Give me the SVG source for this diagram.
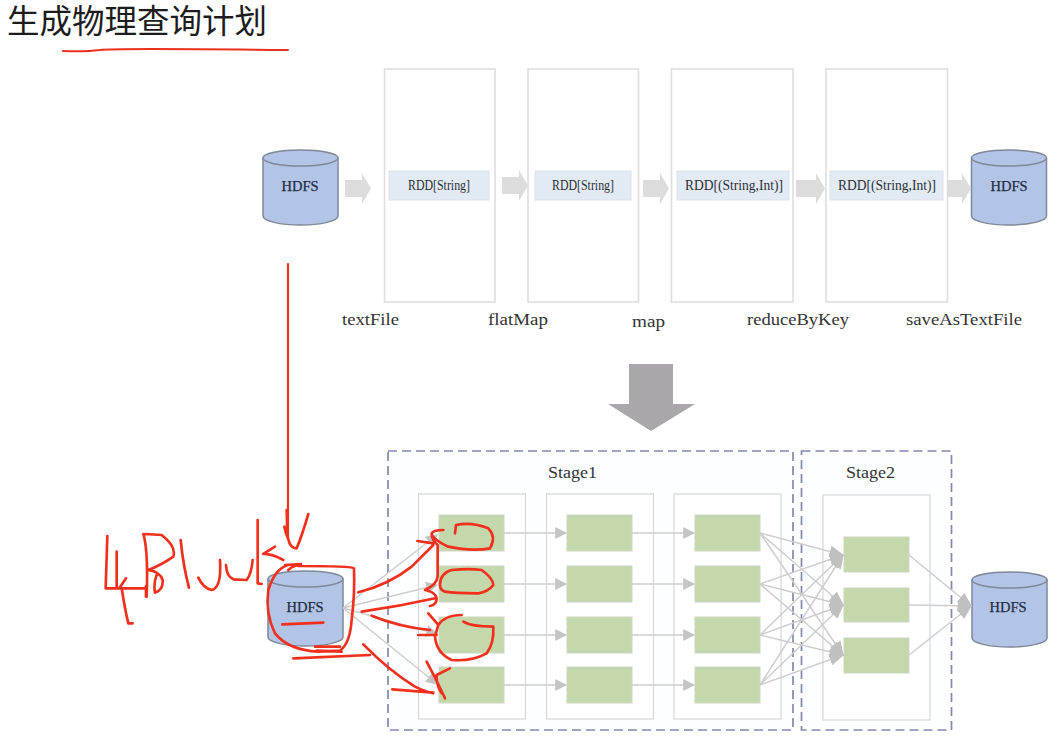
<svg xmlns="http://www.w3.org/2000/svg" width="1062" height="737" viewBox="0 0 1062 737">
<defs>
<style>
.panel{fill:#fff;stroke:#e2dcdf;stroke-width:1.6}
.inner{fill:#fff;stroke:#d6d8d8;stroke-width:1.2}
.rdd{fill:#e2eaf4;stroke:#dde2e8;stroke-width:1}
.task{fill:#c5d8ab;stroke:#cfd5c4;stroke-width:1}
.stage{fill:#fdfeff;stroke:#8388ad;stroke-width:1.7;stroke-dasharray:9 5}
.cyl{fill:#b3c5e6;stroke:#7e8899;stroke-width:1.5}
.t{font-family:"Liberation Serif",serif;fill:#2a2f3a}
.rt{font-size:14px}
.hd{font-size:14.500px;text-anchor:middle;fill:#1f2c44;stroke:#1f2c44;stroke-width:.25}
.lb{font-size:17px;fill:#333}
.st{font-size:16px;fill:#333}
.blk{fill:#dcdcdc}
.c{fill:none;stroke:#cfcdcd;stroke-width:1.500}
.ca{marker-end:url(#ah)}
.cb{marker-end:url(#ahb)}
.ink{fill:none;stroke:#f0301c;stroke-width:8;stroke-linecap:round;stroke-linejoin:round}
</style>
<marker id="ah" viewBox="0 0 10 10" refX="9" refY="5" markerWidth="12" markerHeight="12" markerUnits="userSpaceOnUse" orient="auto">
<path d="M0 0L10 5L0 10Z" fill="#c4c4c4"/>
</marker>
<marker id="ahb" viewBox="0 0 10 10" refX="9" refY="5" markerWidth="15" markerHeight="15" markerUnits="userSpaceOnUse" orient="auto">
<path d="M0 1L10 5L0 9Z" fill="#c0c0c0"/>
</marker>
<g id="cyl">
<path class="cyl" d="M0 9V67A37.5 9 0 0 0 75 67V9Z"/>
<ellipse class="cyl" cx="37.5" cy="9" rx="37.5" ry="8"/>
</g>
</defs>
<rect width="1062" height="737" fill="#ffffff"/>
<text id="title" x="7" y="33" font-family="'Liberation Sans','Noto Sans CJK SC',sans-serif" font-size="32.500" fill="#1c1c1c">生成物理查询计划</text>

<g id="rdd1"><rect class="panel" x="384.500" y="69" width="110.500" height="233"/><rect class="rdd" x="389" y="171" width="100" height="29"/><text class="t rt" x="408" y="190" textLength="62" lengthAdjust="spacingAndGlyphs">RDD[String]</text></g>
<g id="rdd2"><rect class="panel" x="528" y="69" width="110.500" height="233"/><rect class="rdd" x="535" y="171" width="96" height="29"/><text class="t rt" x="552" y="190" textLength="62" lengthAdjust="spacingAndGlyphs">RDD[String]</text></g>
<g id="rdd3"><rect class="panel" x="671.500" y="69" width="121.500" height="233"/><rect class="rdd" x="677" y="171" width="112" height="29"/><text class="t rt" x="685" y="190" textLength="98" lengthAdjust="spacingAndGlyphs">RDD[(String,Int)]</text></g>
<g id="rdd4"><rect class="panel" x="826" y="69" width="121.500" height="233"/><rect class="rdd" x="830" y="171" width="113" height="29"/><text class="t rt" x="838" y="190" textLength="98" lengthAdjust="spacingAndGlyphs">RDD[(String,Int)]</text></g>

<g id="hdfs-top-in"><use href="#cyl" x="263" y="149"/><text class="t hd" x="300" y="191">HDFS</text></g>
<g id="hdfs-top-out"><use href="#cyl" x="971.500" y="149"/><text class="t hd" x="1009" y="191">HDFS</text></g>

<g id="ops">
<text class="t lb" x="342" y="325" textLength="57" lengthAdjust="spacingAndGlyphs">textFile</text>
<text class="t lb" x="488" y="325" textLength="60" lengthAdjust="spacingAndGlyphs">flatMap</text>
<text class="t lb" x="632" y="327" textLength="33" lengthAdjust="spacingAndGlyphs">map</text>
<text class="t lb" x="747" y="325" textLength="102" lengthAdjust="spacingAndGlyphs">reduceByKey</text>
<text class="t lb" x="906" y="325" textLength="116" lengthAdjust="spacingAndGlyphs">saveAsTextFile</text>
</g>

<g id="block-arrows">
<path class="blk" d="M345 180H362V173L371 188.500L362 204V197H345Z"/>
<path class="blk" d="M502 177H519V170L528 185.500L519 201V194H502Z"/>
<path class="blk" d="M643 180H660V173L669 188.500L660 204V197H643Z"/>
<path class="blk" d="M796 180H816V173L825 188.500L816 204V197H796Z"/>
<path class="blk" d="M947 180H962V173L971 188.500L962 204V197H947Z"/>
<path d="M629 364H673V404H695L651 431L608 404H629Z" fill="#aaa7ab"/>
</g>

<g id="stage1"><rect class="stage" x="388" y="451" width="405" height="279"/><text class="t st" x="548" y="478" textLength="49" lengthAdjust="spacingAndGlyphs">Stage1</text></g>
<g id="stage2"><rect class="stage" x="801.500" y="451" width="150" height="279"/><text class="t st" x="846" y="478" textLength="49" lengthAdjust="spacingAndGlyphs">Stage2</text></g>

<g id="col1"><rect class="inner" x="418.500" y="494" width="107" height="225"/>
<rect class="task" x="439" y="515" width="65" height="36"/><rect class="task" x="439" y="566" width="65" height="36"/><rect class="task" x="439" y="617" width="65" height="36"/><rect class="task" x="439" y="667" width="65" height="36"/></g>
<g id="col2"><rect class="inner" x="546.500" y="494" width="107" height="225"/>
<rect class="task" x="567" y="515" width="65" height="36"/><rect class="task" x="567" y="566" width="65" height="36"/><rect class="task" x="567" y="617" width="65" height="36"/><rect class="task" x="567" y="667" width="65" height="36"/></g>
<g id="col3"><rect class="inner" x="674" y="494" width="107" height="225"/>
<rect class="task" x="695" y="515" width="65" height="36"/><rect class="task" x="695" y="566" width="65" height="36"/><rect class="task" x="695" y="617" width="65" height="36"/><rect class="task" x="695" y="667" width="65" height="36"/></g>
<g id="col4"><rect class="inner" x="823" y="495" width="107" height="225"/>
<rect class="task" x="844" y="537" width="65" height="35"/><rect class="task" x="844" y="588" width="65" height="34"/><rect class="task" x="844" y="638" width="65" height="35"/></g>

<g id="hdfs-bottom-in"><use href="#cyl" x="268" y="570"/><text class="t hd" x="305" y="612">HDFS</text></g>
<g id="hdfs-bottom-out"><use href="#cyl" x="972" y="571"/><text class="t hd" x="1008" y="612">HDFS</text></g>

<g id="connectors">
<path class="c ca" d="M343 608L437 535"/><path class="c ca" d="M343 608L437 585"/><path class="c ca" d="M343 608L437 634"/><path class="c ca" d="M343 608L437 684"/>
<path class="c ca" d="M504 533H566"/><path class="c ca" d="M504 584H566"/><path class="c ca" d="M504 635H566"/><path class="c ca" d="M504 685H566"/>
<path class="c ca" d="M632 533H694"/><path class="c ca" d="M632 584H694"/><path class="c ca" d="M632 635H694"/><path class="c ca" d="M632 685H694"/>
<path class="c cb" d="M760 533L843 555"/><path class="c cb" d="M760 533L843 605"/><path class="c cb" d="M760 533L843 655"/>
<path class="c cb" d="M760 584L843 555"/><path class="c cb" d="M760 584L843 605"/><path class="c cb" d="M760 584L843 655"/>
<path class="c cb" d="M760 635L843 555"/><path class="c cb" d="M760 635L843 605"/><path class="c cb" d="M760 635L843 655"/>
<path class="c cb" d="M760 685L843 555"/><path class="c cb" d="M760 685L843 605"/><path class="c cb" d="M760 685L843 655"/>
<path class="c cb" d="M909 555L971 606"/><path class="c cb" d="M909 605L971 606"/><path class="c cb" d="M909 655L971 606"/>
</g>

<g id="annotations">
<path d="M288 264V538" fill="none" stroke="#f0301c" stroke-width="2.200" stroke-linecap="round"/>
<path class="ink" transform="translate(255 510) scale(.3333)" d="M95 0L97 70M88 50Q92 70 100 88Q105 115 125 115Q140 80 160 12M138 165Q115 165 100 180M90 165L138 162M100 165Q60 175 40 240Q30 310 60 370Q100 420 190 425L255 422Q285 400 290 330Q300 250 297 175Q290 168 130 168M115 445L345 435M180 410L255 410M185 422L260 425M82 343L205 338M310 247Q400 225 470 170Q510 130 535 105M487 93L535 100M565 60Q535 60 530 70Q530 90 548 105L548 200Q545 225 510 240Q540 245 545 265Q545 285 525 288M320 305Q430 290 540 265M350 317Q430 350 525 360M490 375L545 375M325 403Q400 480 480 530Q510 545 535 550M412 538L535 548M515 455Q545 510 570 565M585 475L545 495Q545 530 560 550M600 70L603 45Q650 35 700 55Q725 80 705 115Q650 125 580 110Q545 95 530 75M555 225Q555 190 590 180Q640 175 680 180Q715 205 715 225Q700 245 670 250Q600 250 570 245Q555 240 555 225ZM520 310L550 345Q570 315 620 315M625 335Q650 350 715 350Q718 400 695 430Q650 455 590 450Q545 430 540 380L550 345"/>
<path class="ink" transform="translate(90 510) scale(.3333)" d="M52 78L47 235L170 235M80 125L80 235M108 205L90 232M95 235Q105 300 115 340L128 340M168 228L168 260M165 72L215 75Q260 110 250 140Q215 165 175 180M160 72Q175 120 170 260M175 180Q210 185 218 210Q220 240 195 248Q190 220 200 195M272 90Q280 170 297 233M325 203Q340 235 365 240Q395 235 390 150M408 165Q410 200 430 208L470 210Q485 190 488 150M503 30L503 220L515 222M580 150L560 140Q530 130 520 132L555 110"/>
<path d="M63 51Q85 52 100 50Q110 48 288 50" fill="none" stroke="#e8301c" stroke-width="2" stroke-linecap="round"/>
</g>
</svg>
